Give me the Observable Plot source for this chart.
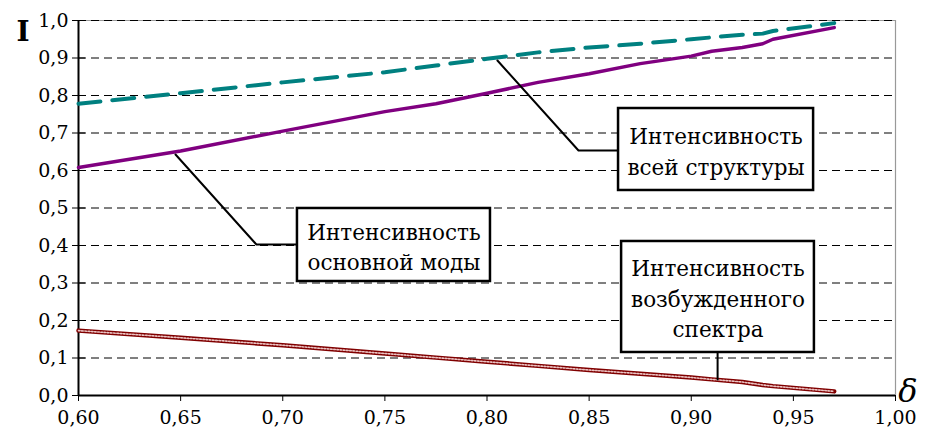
<!DOCTYPE html>
<html><head><meta charset="utf-8">
<script src="https://cdn.jsdelivr.net/npm/d3@7"></script>
<script src="https://cdn.jsdelivr.net/npm/@observablehq/plot@0.6"></script>
<style>body{margin:0;background:#fff}svg{overflow:visible}</style>
</head><body><div id="chart"></div>
<script>
const delta   = [0.60, 0.65, 0.70, 0.75, 0.775, 0.80, 0.825, 0.85, 0.875, 0.90, 0.91, 0.925, 0.935, 0.94, 0.97];
const total   = [0.778, 0.806, 0.835, 0.862, 0.880, 0.898, 0.915, 0.928, 0.938, 0.950, 0.955, 0.962, 0.965, 0.972, 0.993];
const mainMode= [0.608, 0.652, 0.705, 0.757, 0.778, 0.806, 0.835, 0.858, 0.885, 0.905, 0.918, 0.928, 0.938, 0.950, 0.981];
const excited = [0.173, 0.154, 0.134, 0.112, 0.101, 0.090, 0.079, 0.068, 0.058, 0.048, 0.043, 0.036, 0.028, 0.025, 0.011];
const xTicks = [0.60,0.65,0.70,0.75,0.80,0.85,0.90,0.95,1.00];
const yTicks = [0,0.1,0.2,0.3,0.4,0.5,0.6,0.7,0.8,0.9,1.0];
const labelTotal = "Интенсивность\nвсей структуры";
const labelMain = "Интенсивность\nосновной моды";
const labelExcited = "Интенсивность\nвозбужденного\nспектра";

// annotation geometry (data coordinates)
const boxes = [
  {x1:0.8644, x2:0.9599, y1:0.5467, y2:0.7653, text:labelTotal},
  {x1:0.7072, x2:0.8017, y1:0.304,  y2:0.4987, text:labelMain},
  {x1:0.8659, x2:0.9603, y1:0.1147, y2:0.4107, text:labelExcited}
];
const leaders = [
  [{x:0.8051,y:0.8933},{x:0.8448,y:0.6533},{x:0.8644,y:0.6533}],
  [{x:0.6475,y:0.6427},{x:0.6871,y:0.4027},{x:0.7072,y:0.4027}],
  [{x:0.9129,y:0.1147},{x:0.9129,y:0.0427}]
];

const FF = "DejaVu Serif";
const data = delta.map((d,i)=>({d, total: total[i], main: mainMode[i], exc: excited[i]}));
const comma = (f)=> (v)=> d3.format(f)(v).replace(".", ",");

const plot = Plot.plot({
  width: 931, height: 437,
  marginLeft: 78, marginRight: 36, marginTop: 20, marginBottom: 42,
  style: {fontFamily: FF, fontSize: "19px", background: "#fff", color: "#000", overflow: "visible"},
  x: {domain: [0.6, 1.0]},
  y: {domain: [0, 1]},
  marks: [
    Plot.ruleY([1.0], {stroke: "#999", strokeWidth: 1}),
    Plot.ruleX([1.0], {stroke: "#999", strokeWidth: 1.2}),
    Plot.ruleY(yTicks.filter(v=>v>0), {stroke: "#000", strokeWidth: 1, strokeDasharray: "8,5"}),
    Plot.axisX({ticks: xTicks, tickFormat: comma(".2f"), tickSize: 6, tickPadding: 9, stroke: "#000", strokeOpacity: 1, label: null, fontSize: 19}),
    Plot.axisY({ticks: yTicks, tickFormat: comma(".1f"), tickSize: 6, tickPadding: 4, stroke: "#000", strokeOpacity: 1, label: null, fontSize: 19}),
    Plot.axisY({ticks: yTicks, tickFormat: () => "", tickSize: -7, stroke: "#000", strokeOpacity: 1, label: null}),
    Plot.ruleX([0.6], {stroke: "#000", strokeWidth: 2}),
    Plot.ruleY([0], {stroke: "#000", strokeWidth: 2}),
    Plot.line(data, {x: "d", y: "total", stroke: "#008080", strokeWidth: 4, strokeDasharray: "22,12"}),
    Plot.line(data, {x: "d", y: "main", stroke: "#800080", strokeWidth: 3.5}),
    Plot.line(data, {x: "d", y: "exc", stroke: "#800000", strokeWidth: 4.5}),
    Plot.line(data, {x: "d", y: "exc", stroke: "#ebc4c4", strokeWidth: 1.6, strokeDasharray: "1.6,1.6"}),
    ...leaders.map(l => Plot.line(l, {x: "x", y: "y", stroke: "#000", strokeWidth: 2})),
    Plot.rect(boxes, {x1: "x1", x2: "x2", y1: "y1", y2: "y2", fill: "#fff", stroke: "#000", strokeWidth: 2.5}),
    Plot.text(boxes, {x: b => (b.x1+b.x2)/2, y: b => (b.y1+b.y2)/2, text: "text", fontSize: 21.5, lineHeight: 1.42, fill: "#000"}),
    Plot.text(["I"], {frameAnchor: "top-left", dx: -62, dy: 1, fontSize: 28, fontWeight: "bold", fill: "#000"}),
    Plot.text(["δ"], {frameAnchor: "bottom-right", dx: 22, dy: 6, fontSize: 32, fontStyle: "italic", fill: "#000"})
  ]
});
d3.select(plot).selectAll("g, text").attr("font-family", FF).style("font-family", FF).attr("font-variant", "normal").style("font-variant", "normal");
document.getElementById("chart").appendChild(plot);
</script>
</body></html>
